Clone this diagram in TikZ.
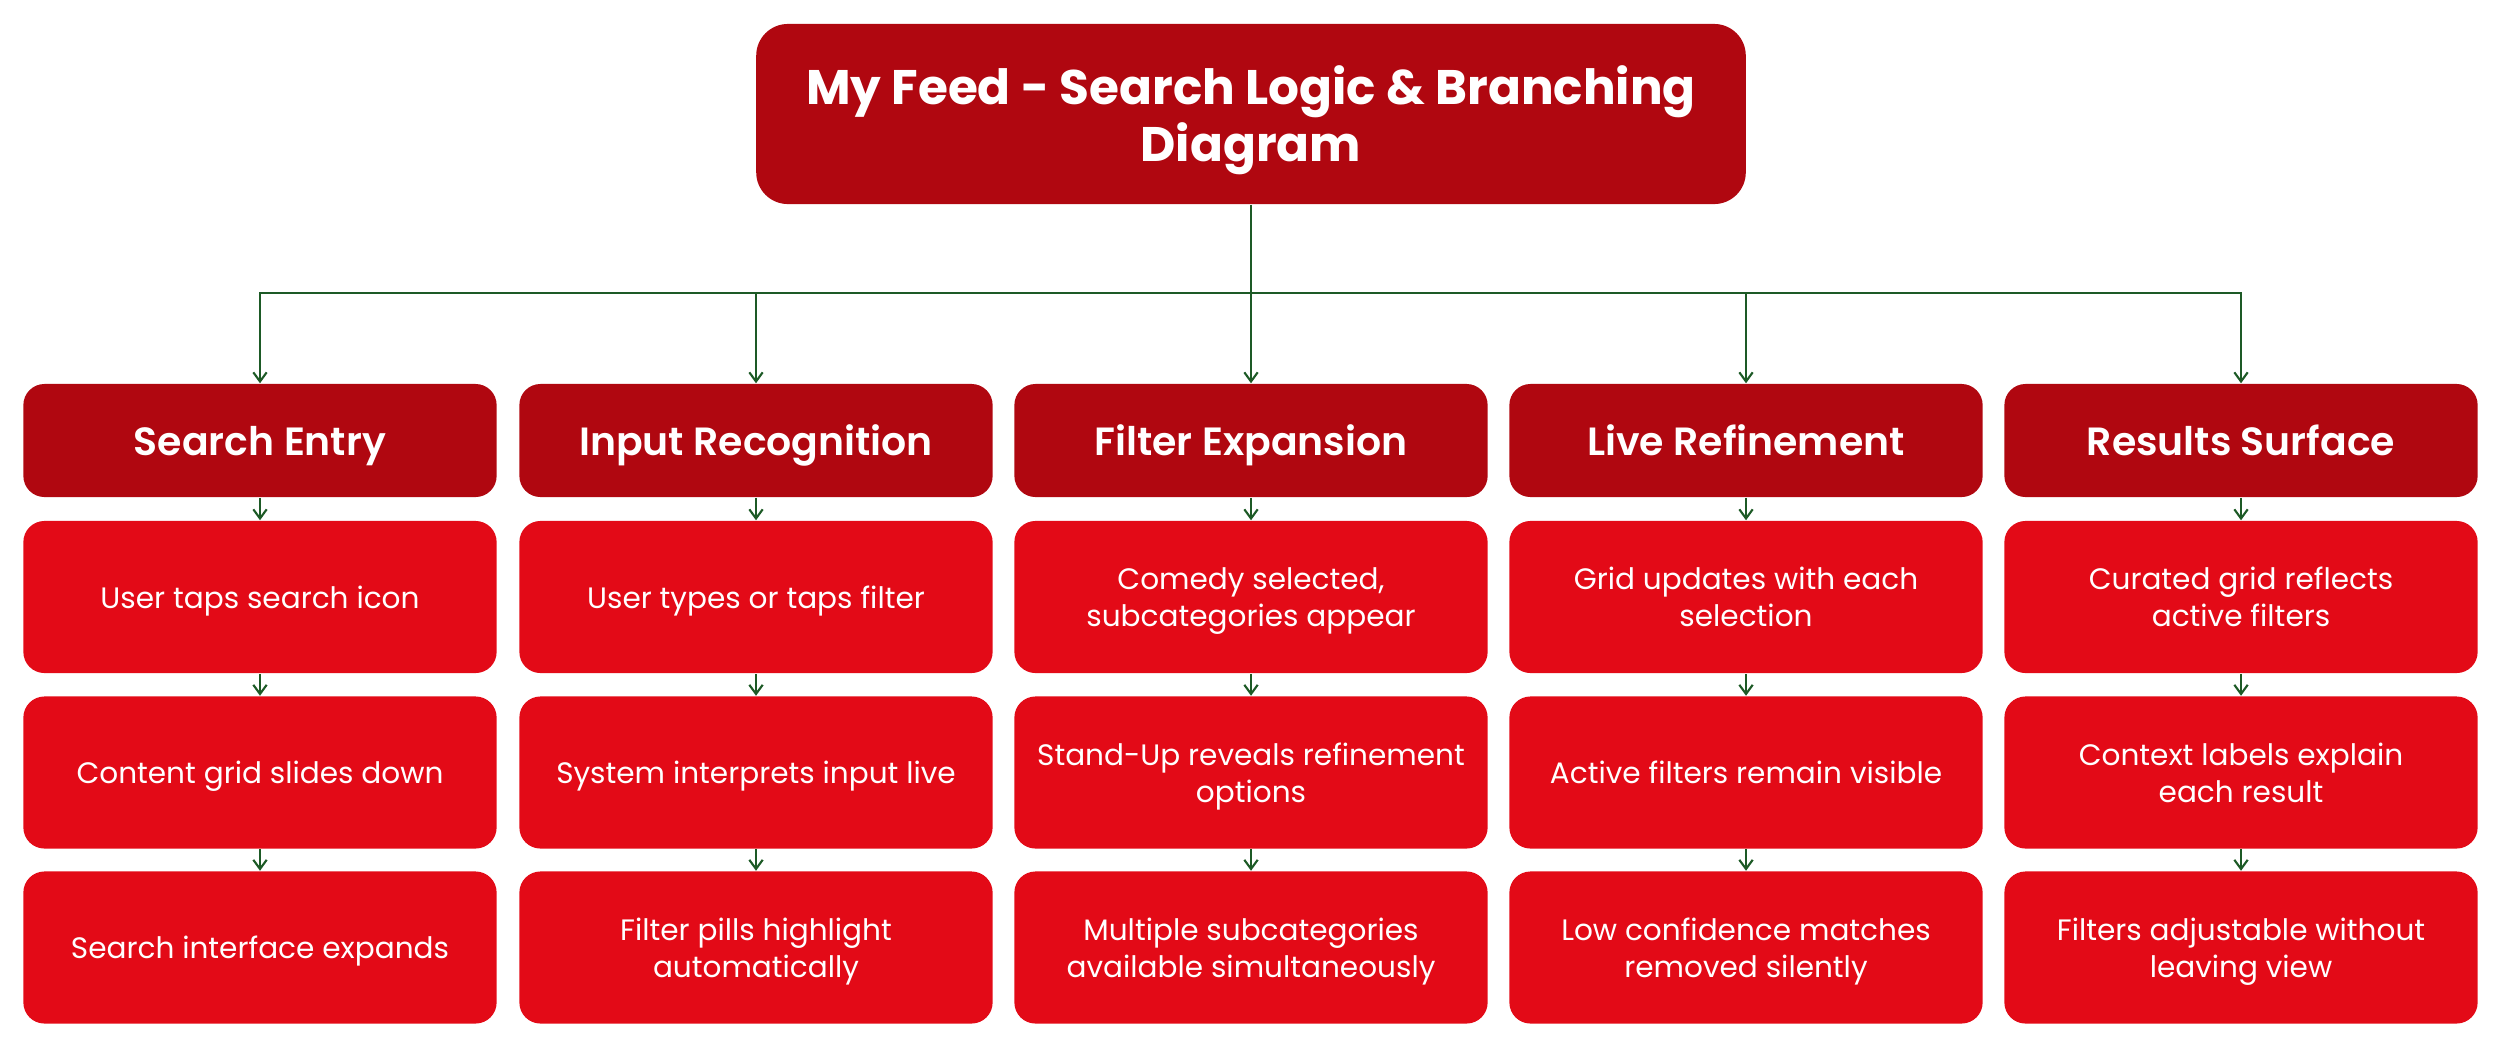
\documentclass[tikz,border=0pt]{standalone}
\usepackage{fontspec}
\setmainfont{Poppins}
\newfontfamily\headfont{Poppins}[UprightFont=* SemiBold]
\usepackage{tikz}
\usetikzlibrary{arrows.meta}

\definecolor{hdrred}{HTML}{B00710}
\definecolor{itemred}{HTML}{E30A17}
\definecolor{linkgreen}{HTML}{1D5A26}

\tikzset{
  titlebox/.style={fill=hdrred, text=white, rounded corners=9pt, align=center,
    minimum width=9.89cm, minimum height=1.80cm, inner sep=0pt, text depth=0pt,
    font=\fontsize{13.8}{16.2}\selectfont\bfseries},
  headbox/.style={fill=hdrred, text=white, rounded corners=6pt, align=center,
    minimum width=4.73cm, minimum height=1.13cm, inner sep=0pt, text depth=0pt,
    font=\fontsize{11.2}{13.5}\headfont},
  itembox/.style={fill=itemred, text=white, rounded corners=6pt, align=center,
    minimum width=4.73cm, minimum height=1.52cm, inner sep=0pt, text depth=0pt,
    font=\fontsize{8.4}{10.5}\selectfont},
  link/.style={draw=linkgreen, line width=0.6pt},
  flow/.style={link, -{Straight Barb[length=2.6pt,width=3.8pt]}}
}

\begin{document}
\begin{tikzpicture}[x=0.01cm, y=-0.01cm]
\useasboundingbox (0,0) rectangle (2500,1060);

% Title
\node[titlebox] (title) at (1251,114) {My Feed - Search Logic \& Branching\\Diagram};
\coordinate (bus) at (1251,293);
\draw[link] (title.south) -- (bus);

% Columns: header and three steps
\foreach \i/\x/\hd/\sa/\sb/\sc in {
  1/260/{Search Entry}/{User taps search icon}/{Content grid slides down}/{Search interface expands},
  2/756/{Input Recognition}/{User types or taps filter}/{System interprets input live}/{Filter pills highlight\\automatically},
  3/1251/{Filter Expansion}/{Comedy selected,\\subcategories appear}/{Stand-Up reveals refinement\\options}/{Multiple subcategories\\available simultaneously},
  4/1746/{Live Refinement}/{Grid updates with each\\selection}/{Active filters remain visible}/{Low confidence matches\\removed silently},
  5/2241/{Results Surface}/{Curated grid reflects\\active filters}/{Context labels explain\\each result}/{Filters adjustable without\\leaving view}}
{
  \node[headbox] (h\i) at (\x,440.5) {\hd};
  \node[itembox] (a\i) at (\x,597) {\sa};
  \node[itembox] (b\i) at (\x,772.5) {\sb};
  \node[itembox] (c\i) at (\x,947.5) {\sc};
  \draw[flow] (bus) -| (h\i.north);
  \draw[flow] (h\i) -- (a\i);
  \draw[flow] (a\i) -- (b\i);
  \draw[flow] (b\i) -- (c\i);
}
\end{tikzpicture}
\end{document}
